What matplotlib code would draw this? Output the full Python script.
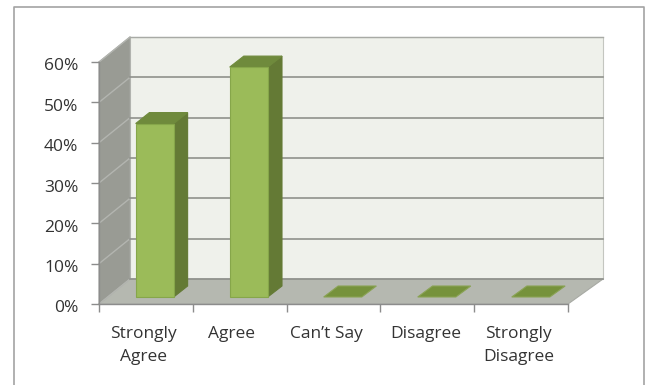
#! /usr/bin/python3

import matplotlib
matplotlib.use('Agg')
import matplotlib.pyplot as plt
from matplotlib.patches import Polygon
from matplotlib.ticker import FuncFormatter
from matplotlib.transforms import ScaledTranslation

categories = ['Strongly\nAgree', 'Agree', 'Can\u2019t Say', 'Disagree', 'Strongly\nDisagree']
values = [43, 57, 0, 0, 0]
y_ticks = [0, 10, 20, 30, 40, 50, 60]

W, H = 647, 385

# how far one unit of chart depth shifts a point, in data units
DX = 31 / (469 / 5)
DY = 25 / (242 / 60)
# the back wall is a little wider than the front, slight perspective
WIDEN = 4 / 469
BAR_W = 0.405
BAR_D0, BAR_D1 = 0.28, 0.72

plt.rcParams['font.family'] = ['Open Sans', 'DejaVu Sans']

fig = plt.figure(figsize=(W / 100, H / 100), dpi=100, facecolor='white')
ax = fig.add_axes([99 / W, 1 - 304 / H, 469 / W, 242 / H])
ax.set_xlim(0, 5)
ax.set_ylim(0, 60)
ax.patch.set_visible(False)


def pt(x, y, d):
    return (x * (1 + d * WIDEN) + d * DX, y + d * DY)


def face(points, color, edge=None, z=2):
    ax.add_patch(Polygon(points, closed=True, facecolor=color, edgecolor=edge or color,
                         linewidth=0.8, clip_on=False, zorder=z))


# walls and floor
face([pt(0, 0, 1), pt(5, 0, 1), pt(5, 60, 1), pt(0, 60, 1)], '#eff1eb', '#c4c6c0', 1)
face([pt(0, 0, 0), pt(0, 0, 1), pt(0, 60, 1), pt(0, 60, 0)], '#999b94', '#a3a5a0', 1)
face([pt(0, 0, 0), pt(5, 0, 0), pt(5, 0, 1), pt(0, 0, 1)], '#b5b8b0', '#a8aaa4', 1)

for t in y_ticks:
    xs, ys = zip(pt(0, t, 0), pt(0, t, 1))
    ax.plot(xs, ys, color='#b3b5b0', lw=1.0, clip_on=False, zorder=1.5)
    xs, ys = zip(pt(0, t, 1), pt(5, t, 1))
    if t < 60:
        ax.plot(xs, ys, color='#8f918c', lw=1.2, clip_on=False, zorder=1.5)
    else:
        ax.plot(xs, ys, color='#a8aaa5', lw=1.0, clip_on=False, zorder=1.5)

# bars
for i, v in enumerate(values):
    x0 = i + 0.5 - BAR_W / 2
    x1 = x0 + BAR_W
    if v == 0:
        face([pt(x0, 0, BAR_D0), pt(x1, 0, BAR_D0), pt(x1, 0, BAR_D1), pt(x0, 0, BAR_D1)],
             '#76923c', '#8aa355', 3)
        continue
    face([pt(x1, 0, BAR_D0), pt(x1, 0, BAR_D1), pt(x1, v, BAR_D1), pt(x1, v, BAR_D0)], '#647a35', z=3)
    face([pt(x0, v, BAR_D0), pt(x1, v, BAR_D0), pt(x1, v, BAR_D1), pt(x0, v, BAR_D1)], '#6f8a3c', z=3)
    face([pt(x0, 0, BAR_D0), pt(x1, 0, BAR_D0), pt(x1, v, BAR_D0), pt(x0, v, BAR_D0)],
         '#9bbb59', '#86a64a', 4)

for s in ['top', 'right']:
    ax.spines[s].set_visible(False)
for s in ['left', 'bottom']:
    ax.spines[s].set_color('#8c8c8c')
    ax.spines[s].set_linewidth(1.0)
    ax.spines[s].set_zorder(2)

ax.set_yticks(y_ticks)
ax.yaxis.set_major_formatter(FuncFormatter(lambda v, p: '%d%%' % v))
ax.tick_params(axis='y', length=5.8, width=1, color='#8c8c8c', labelsize=12.5,
               labelcolor='#333333', pad=9)
# y labels sit a touch under their ticks
for lab in ax.get_yticklabels():
    lab.set_transform(lab.get_transform() + ScaledTranslation(0, -2.5 / 100, fig.dpi_scale_trans))

# ticks sit between categories, labels go on minor ticks slightly left of centre
ax.set_xticks(range(6))
ax.set_xticklabels([])
ax.tick_params(axis='x', which='major', length=5.8, width=1, color='#8c8c8c')
ax.set_xticks([0.47, 1.41, 2.43, 3.48, 4.47], minor=True)
ax.set_xticklabels(categories, minor=True, linespacing=1.6, va='top')
ax.tick_params(axis='x', which='minor', length=0, labelsize=12.5, labelcolor='#333333', pad=16)

# outer chart frame, runs off the bottom of the picture
frame = plt.Line2D([13.5 / W, 13.5 / W, 644 / W, 644 / W],
                   [0, 1 - 7 / H, 1 - 7 / H, 0],
                   transform=fig.transFigure, color='#a3a3a3', lw=1.2)
fig.add_artist(frame)

fig.savefig('out.png', dpi=100, facecolor='white')
